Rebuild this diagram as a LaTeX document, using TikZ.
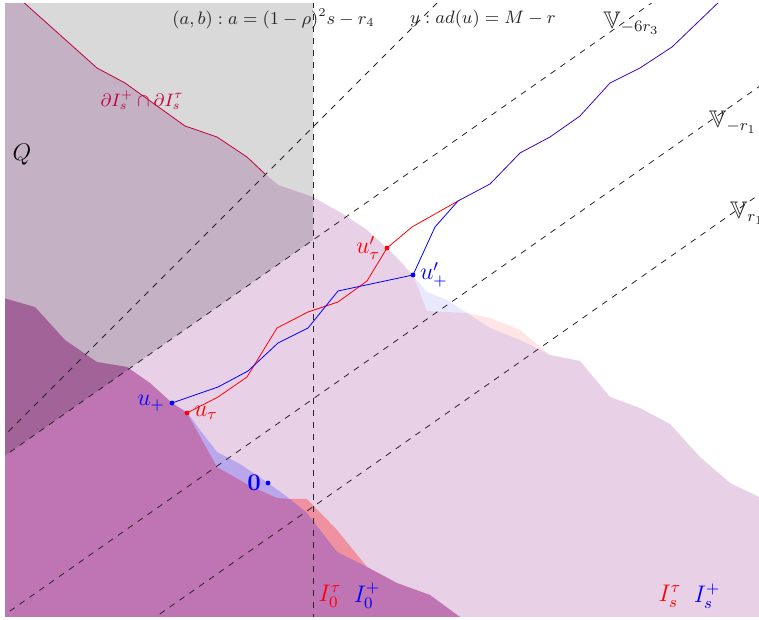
\documentclass[tikz,border=0pt]{standalone}
\usepackage{amssymb}
\begin{document}
\begin{tikzpicture}[x=25pt, y=25pt,
        every node/.append style={font=\large},
        tauset/.style={fill=red, fill opacity=0.1},
        plusset/.style={fill=blue, fill opacity=0.09},
        tauzero/.style={fill=red, fill opacity=0.3},
        pluszero/.style={fill=blue, fill opacity=0.2},
        levelline/.style={dashed, black!85},
        setlab/.style={inner sep=1pt}]
                \useasboundingbox (0,0) rectangle (15.18,12.4);

                % Points on the paths
                \coordinate (ut) at (3.74,4.14);
                \coordinate (up) at (3.44,4.34);
                \coordinate (utp) at (7.74,7.44);
                \coordinate (upp) at (8.26,6.9);
                \coordinate (zero) at (5.36,2.74);
                \coordinate (meet) at (9.16,8.38);

                \begin{scope}
                \clip (0.1,0.06) rectangle (15.18,12.32);

                % I_s^tau and I_s^+
                \fill[tauset] (0,12.4) -- (0.42,12.4) -- (1.94,11.04) -- (2.5,10.74) -- (3.7,9.88) -- (4.34,9.66) -- (4.94,9.26) -- (5.3,8.92) -- (5.56,8.7) -- (6.26,8.46) -- (6.86,8.12) -- (7.34,7.8) -- (utp) -- (8,7.18) -- (upp) -- (8.54,6.18) -- (9.34,6.14) -- (9.8,6.04) -- (10.4,5.8) -- (11,5.3) -- (11.6,5.18) -- (12.2,4.46) -- (12.8,4.24) -- (13.4,3.92) -- (14,3.26) -- (14.6,2.74) -- (15.18,2.46) -- (15.18,0) -- (0,0) -- cycle;
                \fill[plusset] (0,12.4) -- (0.42,12.4) -- (1.94,11.04) -- (2.5,10.74) -- (3.7,9.88) -- (4.34,9.66) -- (4.94,9.26) -- (5.3,8.92) -- (5.56,8.7) -- (6.26,8.46) -- (6.86,8.12) -- (7.34,7.8) -- (utp) -- (8,7.18) -- (8.54,6.56) -- (8.94,6.4) -- (9.34,6.14) -- (9.8,5.84) -- (10.4,5.6) -- (11,5.3) -- (11.6,5.18) -- (12.2,4.46) -- (12.8,4.24) -- (13.4,3.92) -- (14,3.26) -- (14.6,2.74) -- (15.18,2.46) -- (15.18,0) -- (0,0) -- cycle;

                % I_0^tau and I_0^+
                \fill[tauzero] (0,6.46) -- (0.7,6.26) -- (1.3,5.6) -- (1.94,5.16) -- (2.54,5.06) -- (3,4.74) -- (up) -- (ut) -- (4.34,3.06) -- (5,2.68) -- (5.54,2.44) -- (5.8,2.42) -- (6.14,2.42) -- (6.74,1.8) -- (7.34,1.06) -- (7.94,0.74) -- (8.6,0.5) -- (9.2,0.06) -- (9.3,0) -- (0,0) -- cycle;
                \fill[pluszero] (0,6.46) -- (0.7,6.26) -- (1.3,5.6) -- (1.94,5.16) -- (2.54,5.06) -- (3,4.74) -- (up) -- (3.74,4.16) -- (4,3.8) -- (4.34,3.36) -- (4.8,3.12) -- (zero) -- (5.5,2.64) -- (5.8,2.42) -- (6.14,2.14) -- (6.74,1.36) -- (7.34,1.06) -- (7.94,0.74) -- (8.6,0.5) -- (9.2,0.06) -- (9.3,0) -- (0,0) -- cycle;

                % Q
                \fill[black, fill opacity=0.15] (0,12.4) -- (6.26,12.4) -- (6.26,7.6) -- (0,3.218) -- cycle;

                % Level lines
                \draw[levelline] (6.26,0) -- (6.26,12.4);
                \draw[levelline] (0,3.6) -- (9,12.6);
                \draw[levelline] (0,3.218) -- (13.4,12.598);
                \draw[levelline] (0,0.04) -- (16,11.24);
                \draw[levelline] (3,-0.018) -- (16,9.082);

                % Common boundary
                \draw[purple] (0.42,12.4) -- (1.94,11.04) -- (2.5,10.74) -- (3.7,9.88) -- (4.34,9.66) -- (4.94,9.26) -- (5.3,8.92);

                % Paths
                \draw[red] (ut) -- (4.36,4.46) -- (4.94,4.86) -- (5.54,5.84) -- (6.16,6.16) -- (6.76,6.36) -- (7.34,6.78) -- (utp) -- (8.24,7.86) -- (meet);
                \draw[blue] (up) -- (4.36,4.66) -- (4.96,4.98) -- (5.56,5.54) -- (6.16,5.84) -- (6.76,6.58) -- (upp) -- (8.7,7.86) -- (meet);
                \draw[blue!75!red] (meet) -- (9.8,8.72) -- (10.4,9.34) -- (11,9.66) -- (11.6,10.08) -- (12.2,10.74) -- (12.8,11.04) -- (13.44,11.46) -- (14.42,12.4);
                \end{scope}

                % Points
                \fill[red] (ut) circle (1.2pt) node[right] (utlab) {$u_\tau$};
                \fill[blue] (up) circle (1.2pt) node[left] (uplab) {$u_+$};
                \fill[red] (utp) circle (1.2pt) node[left] (utplab) {$u'_\tau$};
                \fill[blue] (upp) circle (1.2pt) node[right] (upplab) {$u'_+$};
                \fill[blue] (zero) circle (1.2pt) node[left] (zerolab) {$\mathbf{0}$};

                % Labels
                \node (Qlab) at (0.44,9.3) {$Q$};
                \node[purple, font=\small] (bdlab) at (2.84,10.4) {$\partial I_s^+\cap\partial I_s^\tau$};
                \node[font=\small, black!85] (ablab) at (5.47,12.02) {$(a,b): a=(1-\rho)^2s-r_4$};
                \node[font=\small, black!85] (ylab) at (9.66,12.02) {$y: ad(u)=M-r$};
                \node[black!85] (V6lab) at (12.63,11.94) {$\mathbb{V}_{-6r_3}$};
                \node[black!85] (V1lab) at (14.66,9.96) {$\mathbb{V}_{-r_1}$};
                \node[black!85, anchor=west] (V0lab) at (14.46,8.14) {$\mathbb{V}_{r_1}$};
                \node[red, setlab] (I0t) at (6.6,0.48) {$I_0^\tau$};
                \node[blue, setlab] (I0p) at (7.34,0.48) {$I_0^+$};
                \node[red, setlab] (Ist) at (13.4,0.48) {$I_s^\tau$};
                \node[blue, setlab] (Isp) at (14.14,0.48) {$I_s^+$};
            \end{tikzpicture}
\end{document}
